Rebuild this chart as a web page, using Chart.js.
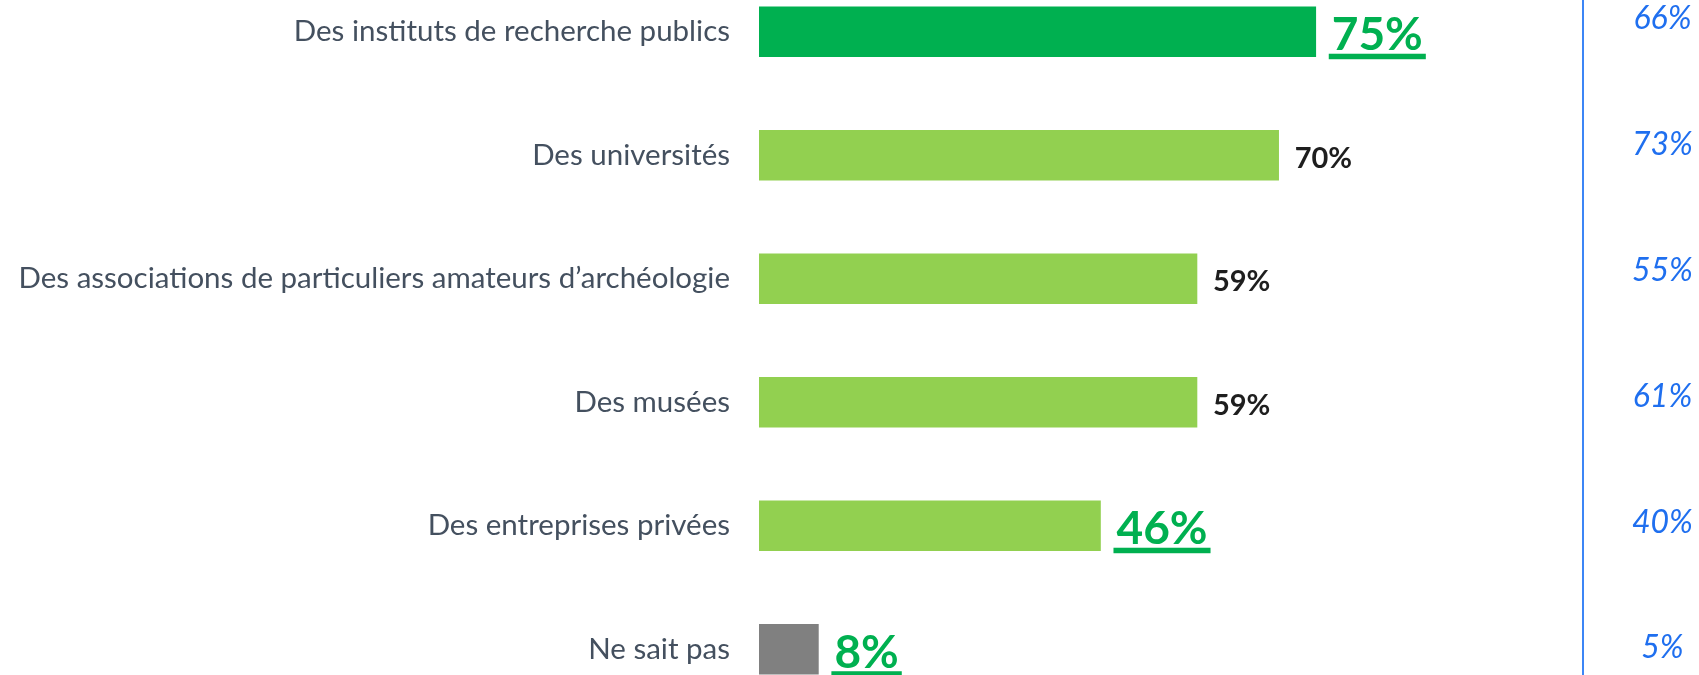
<!DOCTYPE html>
<html>
<head>
<meta charset="utf-8">
<script src="https://cdn.jsdelivr.net/npm/chart.js@4.4.1/dist/chart.umd.min.js"></script>
<style>
html, body { margin: 0; padding: 0; background: #ffffff; overflow: hidden; width: 1699px; height: 675px; }
#wrap { position: absolute; left: 0; top: -30px; width: 1699px; height: 741px; }
</style>
</head>
<body>
<div id="wrap"><canvas id="c"></canvas></div>
<script>
// ---- data ----
const categories = [
  'Des instituts de recherche publics',
  'Des universités',
  'Des associations de particuliers amateurs d\u2019archéologie',
  'Des musées',
  'Des entreprises privées',
  'Ne sait pas'
];
const values = [75, 70, 59, 59, 46, 8];
const previousValues = [66, 73, 55, 61, 40, 5];
const highlighted = [true, false, false, false, true, true];

// ---- styles ----
const barColors = ['#00B050', '#92D050', '#92D050', '#92D050', '#92D050', '#808080'];
const GREEN = '#00B050';
const Y2_MIN = -0.391, Y2_MAX = 5.501;

const valueLabels = {
  id: 'valueLabels',
  afterDatasetsDraw(chart) {
    const ctx = chart.ctx;
    const meta = chart.getDatasetMeta(0);
    meta.data.forEach((bar, i) => {
      const big = highlighted[i];
      const size = big ? 46 : 29;
      ctx.save();
      ctx.font = 'bold ' + size + 'px Lato';
      ctx.fillStyle = big ? GREEN : '#1E1E1E';
      ctx.textAlign = 'left';
      ctx.textBaseline = 'alphabetic';
      const txt = values[i] + '%';
      const x = bar.x + 16;
      const base = bar.y + size * 0.7165 / 2 + 2;
      ctx.fillText(txt, x, base);
      if (big) {
        const w = ctx.measureText(txt).width;
        ctx.fillRect(x - 3, base + 3.5, w + 6, 5.5);
      }
      ctx.restore();
    });
  }
};

function noPad(s, w) {
  s.width = w;
  s.paddingTop = 0;
  s.paddingBottom = 0;
}

new Chart(document.getElementById('c'), {
  type: 'bar',
  data: {
    labels: categories,
    datasets: [{
      data: values,
      backgroundColor: barColors,
      borderWidth: 0,
      barThickness: 50,
      xAxisID: 'x',
      yAxisID: 'y'
    }]
  },
  options: {
    indexAxis: 'y',
    responsive: true,
    maintainAspectRatio: false,
    animation: false,
    devicePixelRatio: 1,
    layout: { padding: 0 },
    plugins: { legend: { display: false }, tooltip: { enabled: false } },
    scales: {
      x: { type: 'linear', min: 0, max: 111, display: false },
      y: {
        type: 'category',
        position: 'left',
        grid: { display: false, drawTicks: false },
        border: { display: false },
        ticks: {
          color: '#44505F',
          font: { family: 'Lato', size: 29.5 },
          padding: 29,
          autoSkip: false
        },
        afterFit: (s) => noPad(s, 759)
      },
      y2: {
        type: 'linear',
        position: 'right',
        reverse: true,
        offset: false,
        bounds: 'data',
        min: Y2_MIN,
        max: Y2_MAX,
        grid: { display: false, drawTicks: false, offset: false },
        border: { display: true, color: '#3C86F6', width: 2 },
        afterBuildTicks: (s) => { s.ticks = previousValues.map((_, i) => ({ value: i })); },
        ticks: {
          autoSkip: false,
          color: '#1F6FEF',
          font: { family: 'Lato', style: 'italic', size: 32 },
          crossAlign: 'center',
          padding: 49,
          callback: (v) => (previousValues[Math.round(v)] != null) ? previousValues[Math.round(v)] + '%' : ''
        },
        afterFit: (s) => noPad(s, 116)
      }
    }
  },
  plugins: [valueLabels]
});
</script>
</body>
</html>
